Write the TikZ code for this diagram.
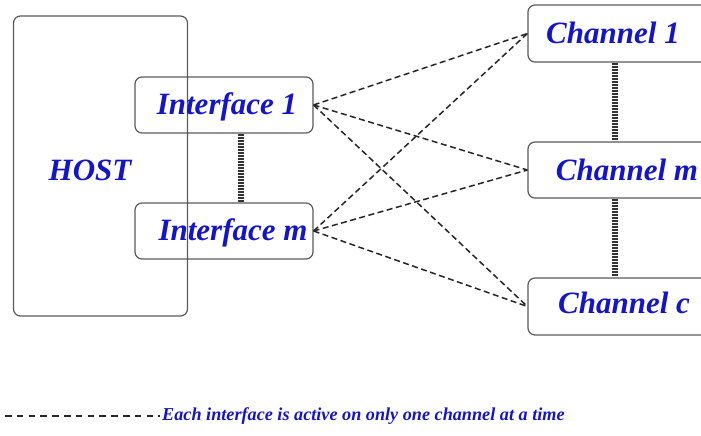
\documentclass[tikz,border=0pt]{standalone}
\usepackage{fontspec}
\setmainfont{Liberation Serif}
\definecolor{txtblue}{RGB}{20,20,205}
\definecolor{edge}{RGB}{90,90,90}
\begin{document}
\begin{tikzpicture}[x=1pt,y=-1pt,
  box/.style={draw=edge, line width=1.2pt, rounded corners=7pt, inner sep=0pt},
  lbl/.style={text=txtblue, font=\fontsize{31}{34}\selectfont\bfseries\itshape},
  link/.style={draw=black!85, line width=1.5pt, dash pattern=on 6pt off 3.5pt},
  chain/.style={draw=black!80, line width=5.5pt, dash pattern=on 1.6pt off 1.4pt}]
\useasboundingbox (0,0) rectangle (701,436);
% host
\node[box, minimum width=174pt, minimum height=300pt] (host) at (100.5,166) {};
\node[lbl] (hostl) at (90,170) {HOST};
% interfaces
\node[box, minimum width=178pt, minimum height=56pt] (if1) at (224,105) {};
\node[lbl] at (227,107) {Interface 1};
\node[box, minimum width=178pt, minimum height=56pt] (ifm) at (224,231) {};
\node[lbl] at (233,233) {Interface m};
% channels
\node[box, minimum width=180pt, minimum height=57pt] (ch1) at (618,33.5) {};
\node[lbl] at (613,33) {Channel 1};
\node[box, minimum width=180pt, minimum height=56pt] (chm) at (618,170) {};
\node[lbl] at (627,170) {Channel m};
\node[box, minimum width=180pt, minimum height=57pt] (chc) at (618,306.5) {};
\node[lbl] at (624,303) {Channel c};
% vertical chains
\draw[chain] (241,134) -- (241,202);
\draw[chain] (615,63) -- (615,141);
\draw[chain] (615,199) -- (615,277);
% dashed links
\foreach \a in {if1,ifm}
  \foreach \b in {ch1,chm,chc}
    \draw[link] (\a.east) -- (\b.west);
% legend
\coordinate (la) at (5,416);
\coordinate (lb) at (160,416);
\draw[link, line width=1.4pt, dash pattern=on 6.5pt off 5.3pt] (la) -- (lb);
\node[anchor=west, inner sep=0pt, text=txtblue, font=\fontsize{18.2}{20}\selectfont\bfseries\itshape] (leg) at (162,416) {Each interface is active on only one channel at a time};
\end{tikzpicture}
\end{document}
